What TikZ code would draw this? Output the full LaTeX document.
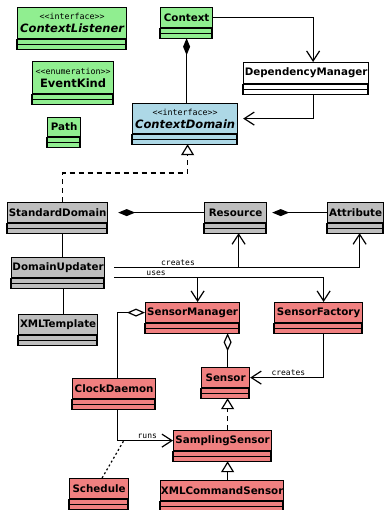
\documentclass[tikz,border=0pt]{standalone}
\usepackage{fontspec}
\setmainfont{DejaVu Sans}
\newfontfamily\stereofont{DejaVu Sans Mono}
\usetikzlibrary{arrows.meta, calc}
\definecolor{iface}{RGB}{144, 238, 144}
\definecolor{domain}{RGB}{173, 216, 230}
\definecolor{core}{RGB}{190, 190, 190}
\definecolor{sense}{RGB}{240, 128, 128}
\newcommand{\stereo}[1]{{\stereofont\mdseries\fontsize{8.3}{9}\selectfont <{}<#1>{}>}\\[1pt]}
\newcommand{\bigname}[1]{{\fontsize{11.5}{13}\selectfont #1}}
% [options]{fill}{name}{top left}{width}{text}
\newcommand{\umlclass}[6][]{%
  \node[cls, fill=#2, minimum width=#5, #1] (#3) at #4 {#6};
  \draw[fill=#2] (#3.south west) rectangle ++(#5, 5) rectangle ++(-#5, 5);
  \coordinate (#3-b) at ([yshift=-10pt]#3.south);
}

\begin{document}
\begin{tikzpicture}[x=1pt, y=-1pt, line width=1.2pt,
  cls/.style={draw, inner sep=0pt, anchor=north west, minimum height=20,
    align=center, font=\fontsize{10.3}{12}\selectfont\bfseries},
  uses/.style={-{Straight Barb[length=10pt, width=13pt]}},
  compo/.style={{Diamond[length=17pt, width=7pt]}-},
  aggr/.style={{Diamond[open, length=18pt, width=8pt]}-},
  inherit/.style={-{Triangle[open, length=11pt, width=13pt]}},
  realize/.style={inherit, dash pattern=on 5pt off 4pt},
  lbl/.style={font=\stereofont\fontsize{8}{9}\selectfont, inner sep=1pt}]

  \useasboundingbox (0, 0) rectangle (384, 510);
  \clip (0, 0) rectangle (384, 510);

  % context layer
  \umlclass[minimum height=31]{iface}{ContextListener}{(17, 7)}{109}{\stereo{interface}\bigname{\itshape ContextListener}}
  \umlclass[minimum height=32]{iface}{EventKind}{(32, 61)}{81}{\stereo{enumeration}\bigname{EventKind}}
  \umlclass[minimum height=19]{iface}{Path}{(47, 117)}{33}{Path}
  \umlclass{iface}{Context}{(160, 7)}{52}{Context}
  \umlclass[minimum height=21]{white}{DependencyManager}{(243, 62)}{125}{DependencyManager}
  \umlclass[minimum height=30]{domain}{ContextDomain}{(132, 103)}{105}{\stereo{interface}\bigname{\itshape ContextDomain}}

  % domain layer
  \umlclass{core}{StandardDomain}{(7, 202)}{100}{StandardDomain}
  \umlclass{core}{Resource}{(204, 202)}{62}{Resource}
  \umlclass{core}{Attribute}{(327, 202)}{56}{Attribute}
  \umlclass{core}{DomainUpdater}{(11, 257)}{93}{DomainUpdater}
  \umlclass{core}{XMLTemplate}{(18, 314)}{79}{XMLTemplate}

  % sensors
  \umlclass{sense}{SensorManager}{(145, 302)}{94}{SensorManager}
  \umlclass{sense}{SensorFactory}{(274, 302)}{88}{SensorFactory}
  \umlclass{sense}{Sensor}{(201, 367)}{48}{Sensor}
  \umlclass{sense}{ClockDaemon}{(72, 378)}{83}{ClockDaemon}
  \umlclass{sense}{SamplingSensor}{(173, 430)}{98}{SamplingSensor}
  \umlclass{sense}{XMLCommandSensor}{(160, 480)}{123}{XMLCommandSensor}
  \umlclass{sense}{Schedule}{(69, 478)}{59}{Schedule}

  \coordinate (sensx) at ([xshift=2pt]Sensor.north);
  \coordinate (smtop) at ([xshift=5pt]SensorManager.north);
  \coordinate (restop) at ([xshift=3pt]Resource-b);

  \draw[compo] (Context-b) -- (Context-b |- ContextDomain.north);
  \draw[uses] (Context.east) -| ([xshift=7pt]DependencyManager.north);
  \draw[uses, shorten >=5pt] ([xshift=7pt]DependencyManager-b) |- (ContextDomain.east);
  \draw[realize] ([xshift=5pt]StandardDomain.north) -- ++(0, -29)
    -| ([xshift=2.5pt]ContextDomain-b);

  \draw[compo, shorten <=10pt] (StandardDomain.east) -- (Resource.west);
  \draw[compo, shorten <=5pt] (Resource.east) -- (Attribute.west);
  \draw ([xshift=5pt]StandardDomain-b) -- ([xshift=5pt]StandardDomain-b |- DomainUpdater.north);
  \draw ([xshift=5pt]DomainUpdater-b) -- ([xshift=5pt]DomainUpdater-b |- XMLTemplate.north);

  \draw[uses] ([xshift=9pt]DomainUpdater.east) -| ([xshift=4pt]Attribute-b)
    node[lbl, above, pos=.13] {creates};
  \draw[uses] (restop |- DomainUpdater.east) -- (restop);
  \draw[uses] ([xshift=9pt, yshift=-10pt]DomainUpdater.east) coordinate (usesfrom)
    -| ([xshift=5pt]SensorFactory.north) node[lbl, above, pos=.1] {uses};
  \draw[uses] (smtop |- usesfrom) -- (smtop);

  \draw[aggr] (sensx |- SensorManager-b) -- (sensx);
  \draw[uses] ([xshift=5pt]SensorFactory-b) |- (Sensor.east)
    node[lbl, above, pos=.74] {creates};
  \draw[realize] (sensx |- SamplingSensor.north) -- (sensx |- Sensor-b);
  \draw[inherit] (sensx |- XMLCommandSensor.north) -- (sensx |- SamplingSensor-b);

  \draw[aggr] (SensorManager.west) -| ([xshift=3pt]ClockDaemon.north);
  \draw[uses] ([xshift=3pt]ClockDaemon-b) |- (SamplingSensor.west)
    coordinate[pos=.56] (runlink) node[lbl, above, pos=.77] {runs};
  \draw[dash pattern=on 2pt off 2.5pt] ([xshift=3pt]Schedule.north) -- (runlink);

\end{tikzpicture}
\end{document}
